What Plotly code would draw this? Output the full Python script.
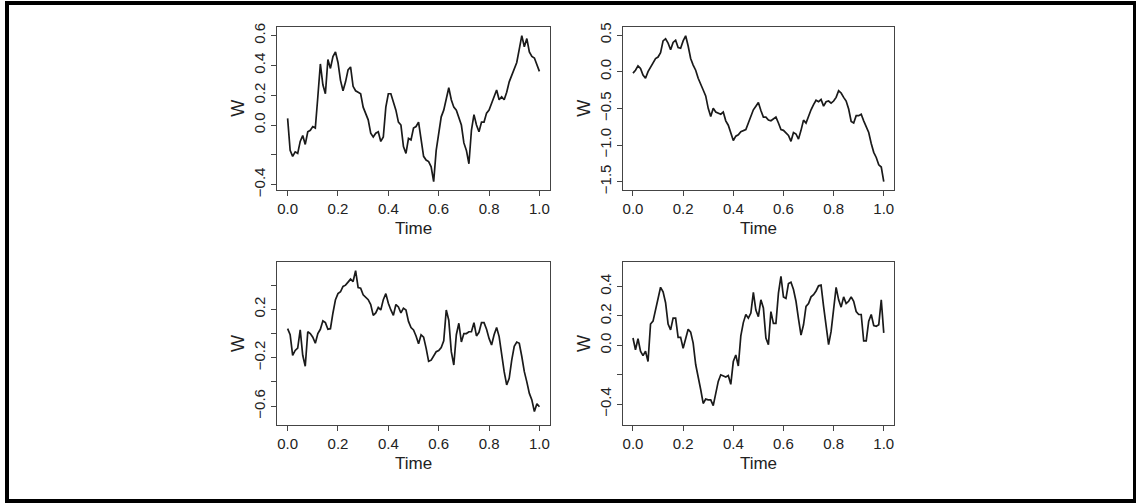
import plotly.graph_objects as go

# ---- data ----
time = [0.00, 0.01, 0.02, 0.03, 0.04, 0.05, 0.06, 0.07, 0.08, 0.09,
        0.10, 0.11, 0.12, 0.13, 0.14, 0.15, 0.16, 0.17, 0.18, 0.19,
        0.20, 0.21, 0.22, 0.23, 0.24, 0.25, 0.26, 0.27, 0.28, 0.29,
        0.30, 0.31, 0.32, 0.33, 0.34, 0.35, 0.36, 0.37, 0.38, 0.39,
        0.40, 0.41, 0.42, 0.43, 0.44, 0.45, 0.46, 0.47, 0.48, 0.49,
        0.50, 0.51, 0.52, 0.53, 0.54, 0.55, 0.56, 0.57, 0.58, 0.59,
        0.60, 0.61, 0.62, 0.63, 0.64, 0.65, 0.66, 0.67, 0.68, 0.69,
        0.70, 0.71, 0.72, 0.73, 0.74, 0.75, 0.76, 0.77, 0.78, 0.79,
        0.80, 0.81, 0.82, 0.83, 0.84, 0.85, 0.86, 0.87, 0.88, 0.89,
        0.90, 0.91, 0.92, 0.93, 0.94, 0.95, 0.96, 0.97, 0.98, 0.99,
        1.00]

w_top_left = [0.045, -0.17, -0.21, -0.18, -0.19, -0.11, -0.07, -0.13, -0.045, -0.035,
              -0.01, -0.02, 0.19, 0.41, 0.27, 0.21, 0.44, 0.38, 0.46, 0.49,
              0.42, 0.30, 0.23, 0.29, 0.37, 0.39, 0.26, 0.23, 0.22, 0.21,
              0.12, 0.08, 0.035, -0.055, -0.08, -0.055, -0.045, -0.11, -0.08, 0.12,
              0.21, 0.21, 0.16, 0.10, 0.02, 0.0, -0.145, -0.19, -0.09, -0.10,
              -0.02, -0.01, 0.02, -0.08, -0.21, -0.235, -0.245, -0.28, -0.38, -0.17,
              -0.045, 0.055, 0.10, 0.17, 0.25, 0.17, 0.12, 0.10, 0.045, 0.0,
              -0.12, -0.17, -0.26, -0.035, 0.07, 0.0, -0.045, 0.02, 0.02, 0.08,
              0.10, 0.145, 0.20, 0.235, 0.17, 0.19, 0.17, 0.22, 0.29, 0.335,
              0.37, 0.42, 0.51, 0.60, 0.525, 0.58, 0.49, 0.46, 0.45, 0.40,
              0.36]

w_top_right = [-0.02, 0.02, 0.08, 0.045, -0.045, -0.09, 0.0, 0.06, 0.11, 0.18,
               0.20, 0.26, 0.42, 0.45, 0.39, 0.30, 0.40, 0.43, 0.33, 0.32,
               0.42, 0.49, 0.35, 0.18, 0.09, 0.02, -0.09, -0.16, -0.25, -0.33,
               -0.50, -0.61, -0.50, -0.55, -0.57, -0.58, -0.55, -0.67, -0.73, -0.83,
               -0.94, -0.88, -0.86, -0.82, -0.80, -0.79, -0.70, -0.62, -0.52, -0.47,
               -0.42, -0.53, -0.62, -0.62, -0.66, -0.67, -0.64, -0.62, -0.70, -0.79,
               -0.80, -0.83, -0.87, -0.95, -0.83, -0.85, -0.92, -0.80, -0.66, -0.70,
               -0.60, -0.52, -0.45, -0.39, -0.41, -0.38, -0.47, -0.41, -0.40, -0.43,
               -0.40, -0.35, -0.26, -0.29, -0.35, -0.40, -0.51, -0.68, -0.70, -0.60,
               -0.60, -0.58, -0.67, -0.74, -0.83, -0.98, -1.10, -1.17, -1.27, -1.30,
               -1.50]

w_bottom_left = [0.04, -0.01, -0.18, -0.14, -0.12, 0.03, -0.18, -0.27, 0.015, 0.0,
                 -0.03, -0.08, 0.0, 0.035, 0.105, 0.09, 0.035, 0.04, 0.17, 0.28,
                 0.33, 0.345, 0.39, 0.40, 0.425, 0.45, 0.43, 0.52, 0.38, 0.375,
                 0.32, 0.30, 0.28, 0.24, 0.15, 0.17, 0.215, 0.195, 0.28, 0.33,
                 0.25, 0.195, 0.15, 0.24, 0.22, 0.17, 0.21, 0.195, 0.10, 0.05,
                 0.03, -0.02, -0.085, -0.01, -0.03, -0.12, -0.23, -0.22, -0.19, -0.15,
                 -0.14, -0.115, -0.06, 0.195, 0.11, -0.15, -0.26, -0.01, 0.085, -0.07,
                 0.0, 0.0, 0.015, 0.015, 0.09, -0.02, 0.01, 0.09, 0.09, 0.035,
                 -0.04, -0.095, -0.01, 0.05, -0.025, -0.19, -0.315, -0.425, -0.37, -0.22,
                 -0.105, -0.07, -0.08, -0.19, -0.315, -0.40, -0.495, -0.55, -0.645, -0.58,
                 -0.605]

w_bottom_right = [0.05, -0.03, 0.045, -0.04, -0.07, -0.04, -0.11, 0.145, 0.165, 0.24,
                  0.31, 0.395, 0.365, 0.29, 0.145, 0.105, 0.185, 0.185, 0.055, 0.055,
                  -0.02, 0.055, 0.11, 0.09, 0.015, -0.13, -0.23, -0.30, -0.395, -0.365,
                  -0.37, -0.37, -0.41, -0.32, -0.245, -0.20, -0.21, -0.215, -0.205, -0.265,
                  -0.11, -0.065, -0.14, 0.065, 0.155, 0.21, 0.185, 0.22, 0.36, 0.24,
                  0.195, 0.31, 0.255, 0.05, 0.005, 0.23, 0.15, 0.15, 0.355, 0.47,
                  0.33, 0.32, 0.42, 0.43, 0.38, 0.30, 0.18, 0.07, 0.14, 0.265,
                  0.285, 0.33, 0.345, 0.37, 0.405, 0.41, 0.265, 0.125, 0.005, 0.095,
                  0.265, 0.395, 0.31, 0.26, 0.33, 0.285, 0.30, 0.33, 0.30, 0.23,
                  0.21, 0.21, 0.03, 0.03, 0.165, 0.21, 0.135, 0.13, 0.14, 0.31,
                  0.085]

x_tickvals = [0.0, 0.2, 0.4, 0.6, 0.8, 1.0]
x_ticktext = ["0.0", "0.2", "0.4", "0.6", "0.8", "1.0"]

y1_tickvals = [-0.4, -0.2, 0.0, 0.2, 0.4, 0.6]
y1_ticktext = ["\u22120.4", "", "0.0", "0.2", "0.4", "0.6"]
y2_tickvals = [-1.5, -1.0, -0.5, 0.0, 0.5]
y2_ticktext = ["\u22121.5", "\u22121.0", "\u22120.5", "0.0", "0.5"]
y3_tickvals = [-0.6, -0.4, -0.2, 0.0, 0.2, 0.4]
y3_ticktext = ["\u22120.6", "", "\u22120.2", "", "0.2", ""]
y4_tickvals = [-0.4, -0.2, 0.0, 0.2, 0.4]
y4_ticktext = ["\u22120.4", "", "0.0", "0.2", "0.4"]

# ---- figure ----
W, H = 1136, 503
FONT = "Liberation Sans, Arial, Helvetica, sans-serif"
TXT = "#222222"
LINE = "#444444"

fig = go.Figure()
series = [w_top_left, w_top_right, w_bottom_left, w_bottom_right]
for k, s in enumerate(series):
    sfx = "" if k == 0 else str(k + 1)
    fig.add_trace(go.Scatter(x=time, y=s, mode="lines",
                             line=dict(color="#1a1a1a", width=1.7),
                             xaxis="x" + sfx, yaxis="y" + sfx,
                             showlegend=False, hoverinfo="skip"))

left_dom = [277.3 / W, 550.0 / W]
right_dom = [622.7 / W, 894.3 / W]
top_dom = [1 - 190.0 / H, 1 - 26.7 / H]
bot_dom = [1 - 424.5 / H, 1 - 262.3 / H]

def xax(dom, anchor):
    return dict(domain=dom, anchor=anchor, range=[-0.041, 1.042],
                tickvals=x_tickvals, ticktext=x_ticktext,
                ticks="outside", ticklen=5, tickwidth=1, tickcolor=LINE,
                showline=True, mirror=True, linecolor=LINE, linewidth=1,
                showgrid=False, zeroline=False,
                tickfont=dict(family=FONT, size=15, color=TXT),
                title=dict(text="Time", font=dict(family=FONT, size=17, color=TXT), standoff=6))

def yax(dom, anchor, rng, tv, tt):
    return dict(domain=dom, anchor=anchor, range=rng,
                tickvals=tv, ticktext=tt, tickangle=-90,
                ticks="outside", ticklen=5, tickwidth=1, tickcolor=LINE,
                showline=True, mirror=True, linecolor=LINE, linewidth=1,
                showgrid=False, zeroline=False,
                tickfont=dict(family=FONT, size=15, color=TXT),
                title=dict(text="W", font=dict(family=FONT, size=18, color=TXT), standoff=1))

fig.update_layout(
    width=W, height=H, template="none",
    margin=dict(l=0, r=0, t=0, b=0),
    paper_bgcolor="white", plot_bgcolor="white",
    xaxis=xax(left_dom, "y"),
    yaxis=yax(top_dom, "x", [-0.436, 0.66], y1_tickvals, y1_ticktext),
    xaxis2=xax(right_dom, "y2"),
    yaxis2=yax(top_dom, "x2", [-1.614, 0.614], y2_tickvals, y2_ticktext),
    xaxis3=xax(left_dom, "y3"),
    yaxis3=yax(bot_dom, "x3", [-0.752, 0.589], y3_tickvals, y3_ticktext),
    xaxis4=xax(right_dom, "y4"),
    yaxis4=yax(bot_dom, "x4", [-0.538, 0.565], y4_tickvals, y4_ticktext),
    shapes=[dict(type="rect", xref="paper", yref="paper",
                 x0=7 / W, x1=1135 / W, y0=1 - 501 / H, y1=1 - 3 / H,
                 line=dict(color="black", width=4), fillcolor="rgba(0,0,0,0)")],
)

fig.write_html("out.html", config={"displayModeBar": False},
               post_script="document.body.style.margin='0';document.body.style.overflow='hidden';")
